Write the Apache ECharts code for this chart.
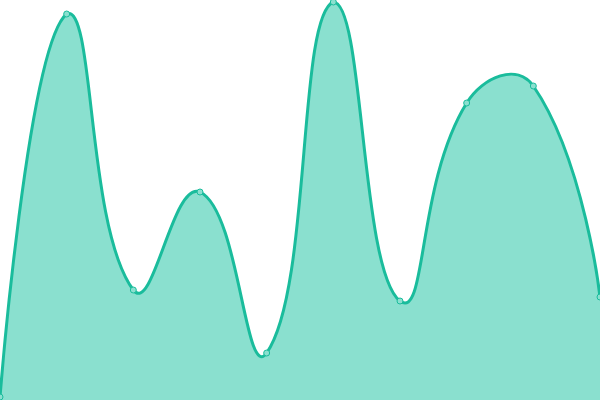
<!DOCTYPE html>
<html lang="en">
<head>
    <meta charset="UTF-8">
    <title>Area</title>
    <style type="text/css">
        html, body { margin: 0; padding: 0; background: #ffffff; }
        #main { width: 600px; height: 400px; }
    </style>
</head>
<body>
<div id="main"></div>
<script type="text/javascript" src="https://cdn.jsdelivr.net/npm/echarts@6/dist/echarts.min.js"></script>
<script type="text/javascript">
    var categories = ['1', '2', '3', '4', '5', '6', '7', '8', '9', '10'];
    var values = [3, 386, 110, 208, 47, 398, 99, 297, 314, 103];

    var lineColor = '#1abc9c';
    var areaColor = '#8ae0cf';
    var smooth = 0.5;

    // control points, old-style symmetric smoothing (curve may overshoot the points)
    function controlPoints(pts) {
        var minX = Infinity, minY = Infinity, maxX = -Infinity, maxY = -Infinity;
        pts.forEach(function (p) {
            minX = Math.min(minX, p[0]); maxX = Math.max(maxX, p[0]);
            minY = Math.min(minY, p[1]); maxY = Math.max(maxY, p[1]);
        });
        var cps = [];
        for (var i = 0; i < pts.length; i++) {
            var p = pts[i];
            if (i === 0 || i === pts.length - 1) {
                cps.push([p[0], p[1]]);
                continue;
            }
            var prev = pts[i - 1], next = pts[i + 1];
            var vx = (next[0] - prev[0]) * smooth;
            var vy = (next[1] - prev[1]) * smooth;
            var d0 = Math.hypot(p[0] - prev[0], p[1] - prev[1]);
            var d1 = Math.hypot(p[0] - next[0], p[1] - next[1]);
            var sum = d0 + d1;
            if (sum) { d0 /= sum; d1 /= sum; }
            var c0 = [p[0] - vx * d0, p[1] - vy * d0];
            var c1 = [p[0] + vx * d1, p[1] + vy * d1];
            [c0, c1].forEach(function (c) {
                c[0] = Math.min(Math.max(c[0], minX), maxX);
                c[1] = Math.min(Math.max(c[1], minY), maxY);
            });
            cps.push(c0, c1);
        }
        return cps;
    }

    function curvePath(pts) {
        var cps = controlPoints(pts);
        var d = 'M' + pts[0][0] + ',' + pts[0][1];
        for (var i = 0; i < pts.length - 1; i++) {
            var a = cps[i * 2], b = cps[i * 2 + 1], p = pts[i + 1];
            d += 'C' + a[0] + ',' + a[1] + ',' + b[0] + ',' + b[1] + ',' + p[0] + ',' + p[1];
        }
        return d;
    }

    var myChart = echarts.init(document.getElementById('main'));
    var option = {
        animation: false,
        grid: { left: 0, right: 0, top: 0, bottom: 0 },
        xAxis: {
            type: 'category',
            boundaryGap: false,
            data: categories,
            show: false
        },
        yAxis: {
            type: 'value',
            min: 0,
            max: 400,
            show: false
        },
        series: [{
            type: 'custom',
            data: values,
            renderItem: function (params, api) {
                if (params.dataIndex !== 0) return null;
                var pts = values.map(function (v, i) { return api.coord([i, v]); });
                var base = api.coord([0, 0])[1];
                var line = curvePath(pts);
                var area = line + 'L' + pts[pts.length - 1][0] + ',' + base +
                    'L' + pts[0][0] + ',' + base + 'Z';
                return {
                    type: 'group',
                    children: [{
                        type: 'path',
                        shape: { pathData: area },
                        style: { fill: areaColor, stroke: null }
                    }, {
                        type: 'path',
                        shape: { pathData: line },
                        style: { fill: null, stroke: lineColor, lineWidth: 3 }
                    }]
                };
            }
        }, {
            type: 'line',
            data: values,
            z: 5,
            symbol: 'circle',
            symbolSize: 6,
            itemStyle: {
                color: areaColor,
                borderColor: lineColor,
                borderWidth: 1
            },
            lineStyle: { width: 0, opacity: 0 }
        }]
    };
    myChart.setOption(option);
</script>
</body>
</html>
